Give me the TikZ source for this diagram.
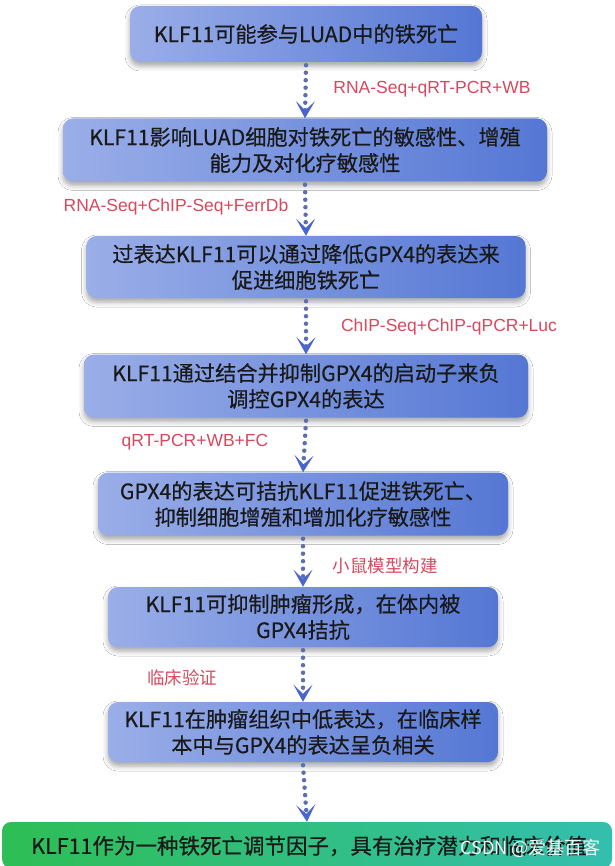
\documentclass[tikz,border=0pt]{standalone}
\usepackage{fontspec}
\setmainfont{Liberation Sans}
\newfontfamily\cjk[FakeBold=0.5]{Noto Sans CJK SC}
\newfontfamily\cjklight{Noto Sans CJK SC}
\usetikzlibrary{arrows.meta,shadows.blur}
\definecolor{boxL}{HTML}{9AAEE8}
\definecolor{boxR}{HTML}{5577D4}
\definecolor{greenL}{HTML}{2EBE55}
\definecolor{greenR}{HTML}{33BFAE}
\definecolor{labred}{HTML}{D8485E}
\definecolor{dotc}{HTML}{5D70AE}
\definecolor{tipc}{HTML}{4A66CC}
\tikzset{
  stepbox/.style={rounded corners=10pt, left color=boxL, right color=boxR, draw=none,
    align=center, font=\cjk\fontsize{21.2}{26}\selectfont, text=black!90,
    blur shadow={shadow xshift=0pt, shadow yshift=-4pt, shadow blur radius=5pt, shadow opacity=35},
    inner sep=0pt},
  lab/.style={font=\fontsize{17.5}{19}\selectfont, text=labred},
  cjklab/.style={font=\cjklight\fontsize{17.5}{19}\selectfont, text=labred},
  conn/.style={draw=dotc, line width=4.5pt, line cap=round, dash pattern=on 0pt off 7.5pt,
    -{Stealth[length=17pt, width=19pt, inset=9pt, color=tipc]}}
}
\begin{document}
\begin{tikzpicture}[x=1pt,y=-1pt]
\useasboundingbox (0,0) rectangle (614,866);
\fill[white] (0,0) rectangle (614,866);
\node[stepbox, minimum width=352pt, minimum height=56pt] (b1) at (306,34) {KLF11可能参与LUAD中的铁死亡};
\node[stepbox, minimum width=484pt, minimum height=63pt] (b2) at (305,150) {KLF11影响LUAD细胞对铁死亡的敏感性、增殖\\能力及对化疗敏感性};
\node[stepbox, minimum width=439pt, minimum height=62pt] (b3) at (306,267) {过表达KLF11可以通过降低GPX4的表达来\\促进细胞铁死亡};
\node[stepbox, minimum width=444pt, minimum height=63pt] (b4) at (306,386) {KLF11通过结合并抑制GPX4的启动子来负\\调控GPX4的表达};
\node[stepbox, minimum width=410pt, minimum height=63pt] (b5) at (303,504) {GPX4的表达可拮抗KLF11促进铁死亡、\\抑制细胞增殖和增加化疗敏感性};
\node[stepbox, minimum width=390pt, minimum height=60pt] (b6) at (303,617) {KLF11可抑制肿瘤形成，在体内被\\GPX4拮抗};
\node[stepbox, minimum width=390pt, minimum height=60pt] (b7) at (303,732) {KLF11在肿瘤组织中低表达，在临床样\\本中与GPX4的表达呈负相关};
\node[rounded corners=9pt, left color=greenL, right color=greenR, minimum width=610pt, minimum height=46pt, inner sep=0pt] (b8) at (307,845) {};
\node[anchor=west, font=\cjk\fontsize{21.5}{24}\selectfont, text=black!90, inner sep=0pt] (t8) at (31,846) {KLF11作为一种铁死亡调节因子，具有治疗潜力和临床价值};
\node[anchor=east, font=\cjklight\fontsize{18}{20}\selectfont, text=white!92!gray, inner sep=0pt] (wm) at (601,848) {CSDN @爱基百客};
\draw[conn] ([yshift=-3pt]b1.south) -- (b2.north);
\draw[conn] ([yshift=-3pt]b2.south) -- (b3.north);
\draw[conn] ([yshift=-3pt]b3.south) -- (b4.north);
\draw[conn] ([yshift=-3pt]b4.south) -- (b5.north);
\draw[conn] ([yshift=-3pt]b5.south) -- (b6.north);
\draw[conn] ([yshift=-3pt]b6.south) -- (b7.north);
\draw[conn] ([yshift=-3pt]b7.south) -- (b8.north);
\node[lab] (l1) at (432,89) {RNA-Seq+qRT-PCR+WB};
\node[lab] (l2) at (176,207) {RNA-Seq+ChIP-Seq+FerrDb};
\node[lab] (l3) at (449,327) {ChIP-Seq+ChIP-qPCR+Luc};
\node[lab] (l4) at (195,442) {qRT-PCR+WB+FC};
\node[cjklab] (l5) at (385,566) {小鼠模型构建};
\node[cjklab] (l6) at (182,678) {临床验证};
\end{tikzpicture}
\end{document}
